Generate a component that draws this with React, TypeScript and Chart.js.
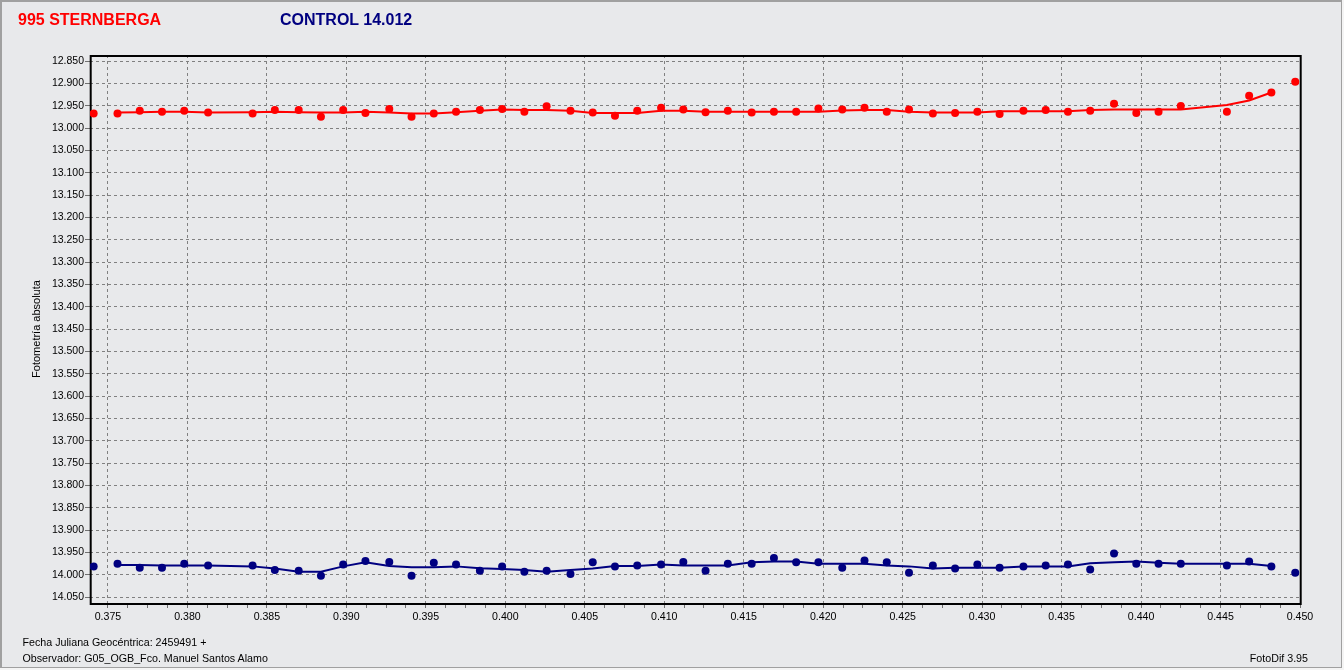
import React, { useEffect, useRef } from 'react';
import { Chart, registerables } from 'chart.js';

Chart.register(...registerables);

// Julian date fraction (2459491 + x)
const X_VALUES = [
  0.3741, 0.3756, 0.3770, 0.3784, 0.3798, 0.3813,
  0.3841, 0.3855, 0.3870, 0.3884, 0.3898, 0.3912, 0.3927, 0.3941, 0.3955, 0.3969,
  0.3984, 0.3998, 0.4012, 0.4026, 0.4041, 0.4055, 0.4069, 0.4083, 0.4098, 0.4112,
  0.4126, 0.4140, 0.4155, 0.4169, 0.4183, 0.4197, 0.4212, 0.4226, 0.4240, 0.4254,
  0.4269, 0.4283, 0.4297, 0.4311, 0.4326, 0.4340, 0.4354, 0.4368, 0.4383, 0.4397,
  0.4411, 0.4425,
  0.4454, 0.4468, 0.4482, 0.4497,
];

// 995 Sternberga – measured magnitudes
const TARGET_MAG = [
  12.967, 12.967, 12.961, 12.963, 12.961, 12.965,
  12.967, 12.959, 12.959, 12.974, 12.959, 12.966, 12.957, 12.974, 12.967, 12.963,
  12.959, 12.957, 12.963, 12.951, 12.961, 12.965, 12.972, 12.961, 12.954, 12.958,
  12.964, 12.961, 12.965, 12.963, 12.963, 12.956, 12.958, 12.954, 12.963, 12.958,
  12.967, 12.966, 12.963, 12.968, 12.961, 12.959, 12.963, 12.961, 12.945, 12.966,
  12.963, 12.950,
  12.963, 12.927, 12.920, 12.896,
];

// 995 Sternberga – smoothed curve
const TARGET_TREND = [
  null, 12.965, 12.964, 12.963, 12.963, 12.965,
  12.964, 12.963, 12.964, 12.965, 12.965, 12.963, 12.965, 12.967, 12.967, 12.964,
  12.961, 12.958, 12.959, 12.959, 12.961, 12.966, 12.966, 12.966, 12.961, 12.961,
  12.963, 12.963, 12.963, 12.963, 12.963, 12.963, 12.960, 12.959, 12.959, 12.963,
  12.965, 12.965, 12.965, 12.962, 12.962, 12.962, 12.962, 12.959, 12.958, 12.958,
  12.958, 12.958,
  12.948, 12.938, 12.920, null,
];

// Control star 14.012 – measured magnitudes
const CONTROL_MAG = [
  13.981, 13.975, 13.984, 13.984, 13.975, 13.979,
  13.979, 13.989, 13.991, 14.002, 13.977, 13.969, 13.971, 14.002, 13.973, 13.977,
  13.991, 13.981, 13.993, 13.991, 13.998, 13.972, 13.981, 13.979, 13.977, 13.971,
  13.991, 13.975, 13.975, 13.962, 13.972, 13.972, 13.984, 13.968, 13.972, 13.995,
  13.979, 13.986, 13.977, 13.984, 13.981, 13.979, 13.977, 13.988, 13.952, 13.975,
  13.975, 13.975,
  13.979, 13.970, 13.981, 13.995,
];

// Control star 14.012 – smoothed curve
const CONTROL_TREND = [
  null, 13.978, 13.978, 13.979, 13.979, 13.979,
  13.981, 13.986, 13.993, 13.993, 13.981, 13.972, 13.980, 13.983, 13.983, 13.981,
  13.985, 13.987, 13.989, 13.993, 13.989, 13.986, 13.980, 13.980, 13.977, 13.979,
  13.979, 13.979, 13.972, 13.970, 13.970, 13.975, 13.975, 13.975, 13.979, 13.981,
  13.986, 13.984, 13.984, 13.984, 13.981, 13.981, 13.981, 13.974, 13.972, 13.970,
  13.973, 13.975,
  13.975, 13.975, 13.980, null,
];

const Y_TICKS = [
  12.85, 12.9, 12.95, 13.0, 13.05, 13.1, 13.15, 13.2, 13.25, 13.3, 13.35, 13.4, 13.45,
  13.5, 13.55, 13.6, 13.65, 13.7, 13.75, 13.8, 13.85, 13.9, 13.95, 14.0, 14.05,
];
const X_LABEL_TICKS = [
  0.375, 0.38, 0.385, 0.39, 0.395, 0.4, 0.405, 0.41, 0.415, 0.42, 0.425, 0.43, 0.435,
  0.44, 0.445, 0.45,
];
const X_MINOR_DIVISIONS = 4;

const TARGET_TITLE = '995 STERNBERGA';
const CONTROL_TITLE = 'CONTROL 14.012';
const Y_TITLE = 'Fotometría absoluta';
const FOOTER_DATE = 'Fecha Juliana Geocéntrica: 2459491 +';
const FOOTER_OBSERVER = 'Observador: G05_OGB_Fco. Manuel Santos Alamo';
const FOOTER_SOFTWARE = 'FotoDif 3.95';

const RED = '#ff0000';
const NAVY = '#000080';
const BG = '#e8e9eb';
const FONT = '"Liberation Sans", Arial, sans-serif';

const pts = (ys: (number | null)[]) => X_VALUES.map((x, i) => ({ x, y: ys[i] }));
const isMajorX = (v: number) => X_LABEL_TICKS.some((m) => Math.abs(m - v) < 1e-7);

const plotBorder = {
  id: 'plotBorder',
  beforeDatasetsDraw(chart: any) {
    const { ctx, chartArea: a } = chart;
    ctx.save();
    ctx.strokeStyle = '#000';
    ctx.lineWidth = 2;
    ctx.setLineDash([]);
    ctx.strokeRect(a.left + 0.7, a.top + 1, a.right - a.left, a.bottom - a.top);
    ctx.restore();
  },
};

export default function App() {
  const ref = useRef<HTMLCanvasElement | null>(null);

  useEffect(() => {
    if (!ref.current) return;
    const chart = new Chart(ref.current, {
      type: 'scatter',
      data: {
        datasets: [
          {
            label: 'target trend',
            data: pts(TARGET_TREND),
            showLine: true,
            borderColor: RED,
            borderWidth: 2,
            pointRadius: 0,
            fill: false,
          },
          {
            label: 'target',
            data: pts(TARGET_MAG),
            showLine: false,
            backgroundColor: RED,
            borderWidth: 0,
            pointRadius: 4,
          },
          {
            label: 'control trend',
            data: pts(CONTROL_TREND),
            showLine: true,
            borderColor: NAVY,
            borderWidth: 2,
            pointRadius: 0,
            fill: false,
          },
          {
            label: 'control',
            data: pts(CONTROL_MAG),
            showLine: false,
            backgroundColor: NAVY,
            borderWidth: 0,
            pointRadius: 4,
          },
        ],
      },
      options: {
        animation: false,
        responsive: false,
        maintainAspectRatio: false,
        layout: { padding: { top: 55, right: 44, left: 0, bottom: 0 } },
        plugins: { legend: { display: false }, tooltip: { enabled: false } },
        scales: {
          x: {
            type: 'linear',
            position: 'bottom',
            min: 0.37387,
            max: 0.45,
            afterBuildTicks: (scale: any) => {
              const t: { value: number }[] = [];
              for (let i = 0; i < X_LABEL_TICKS.length; i++) {
                t.push({ value: X_LABEL_TICKS[i] });
                if (i < X_LABEL_TICKS.length - 1) {
                  const step = (X_LABEL_TICKS[i + 1] - X_LABEL_TICKS[i]) / X_MINOR_DIVISIONS;
                  for (let k = 1; k < X_MINOR_DIVISIONS; k++) t.push({ value: X_LABEL_TICKS[i] + k * step });
                }
              }
              scale.ticks = t;
            },
            afterFit: (scale: any) => {
              scale.height = 67;
            },
            ticks: {
              autoSkip: false,
              maxRotation: 0,
              padding: 3,
              color: '#000',
              font: { family: FONT, size: 10.6 },
              callback: (v: any) => (isMajorX(Number(v)) ? Number(v).toFixed(3) : ''),
            },
            grid: {
              color: (c: any) => (c.tick && isMajorX(c.tick.value) ? '#808080' : 'rgba(0,0,0,0)'),
              lineWidth: 1,
              tickColor: '#707070',
              tickLength: 5,
              tickBorderDash: [],
            },
            border: { display: false, dash: [3, 3] },
          },
          y: {
            type: 'linear',
            reverse: true,
            min: 12.836,
            max: 14.063,
            afterBuildTicks: (scale: any) => {
              scale.ticks = Y_TICKS.map((v) => ({ value: v }));
            },
            afterFit: (scale: any) => {
              scale.width = 90;
            },
            ticks: {
              padding: 1,
              color: '#000',
              font: { family: FONT, size: 10.5 },
              callback: (v: any) => Number(v).toFixed(3),
            },
            grid: {
              color: '#808080',
              lineWidth: 1,
              tickColor: '#707070',
              tickLength: 5,
              tickBorderDash: [],
            },
            border: { display: false, dash: [3, 3] },
            title: {
              display: true,
              text: Y_TITLE,
              color: '#000',
              font: { family: FONT, size: 11 },
              padding: { top: 30.4, bottom: 0 },
            },
          },
        },
      },
      plugins: [plotBorder],
    } as any);
    return () => chart.destroy();
  }, []);

  const textBase: React.CSSProperties = {
    position: 'absolute',
    whiteSpace: 'nowrap',
    lineHeight: 1,
    fontFamily: FONT,
  };

  return (
    <div style={{ position: 'absolute', left: 0, top: 0, width: 1344, height: 670, background: '#f4f4f4', overflow: 'hidden' }}>
      <div
        style={{
          position: 'absolute',
          left: 0,
          top: 0,
          width: 1342,
          height: 668,
          boxSizing: 'border-box',
          background: BG,
          borderTop: '2px solid #a0a0a0',
          borderLeft: '2px solid #a0a0a0',
          borderRight: '1px solid #a0a0a0',
          borderBottom: '1px solid #a0a0a0',
        }}
      />
      <canvas ref={ref} width={1344} height={670} style={{ position: 'absolute', left: 0, top: 0, width: 1344, height: 670 }} />
      <div style={{ ...textBase, left: 18, top: 11.7, fontSize: 16, fontWeight: 'bold', color: RED }}>{TARGET_TITLE}</div>
      <div style={{ ...textBase, left: 280, top: 11.7, fontSize: 16, fontWeight: 'bold', color: NAVY }}>{CONTROL_TITLE}</div>
      <div style={{ ...textBase, left: 22.5, top: 637.3, fontSize: 10.7, color: '#000' }}>{FOOTER_DATE}</div>
      <div style={{ ...textBase, left: 22.5, top: 653, fontSize: 10.7, color: '#000' }}>{FOOTER_OBSERVER}</div>
      <div style={{ ...textBase, right: 1344 - 1308, top: 652.5, fontSize: 10.7, color: '#000' }}>{FOOTER_SOFTWARE}</div>
    </div>
  );
}
